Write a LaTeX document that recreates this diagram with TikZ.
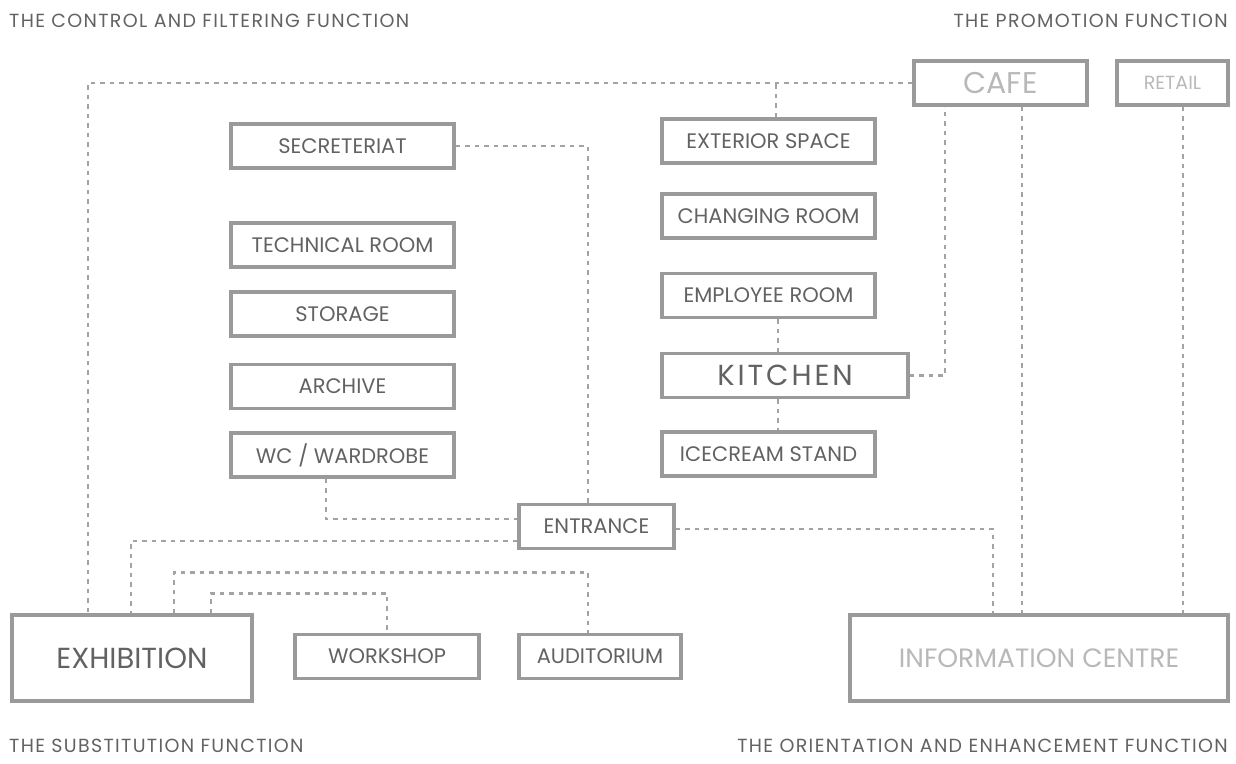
\documentclass[tikz,border=0pt]{standalone}
\usepackage{fontspec}
\setmainfont{Poppins}
\usetikzlibrary{positioning}

\definecolor{boxgray}{HTML}{9A9A9A}
\definecolor{linkgray}{HTML}{A3A3A3}
\definecolor{darktext}{HTML}{626262}
\definecolor{palegray}{HTML}{B8B8B8}

\tikzset{
    room/.style={draw=boxgray,line width=3.5pt,inner sep=0pt,minimum width=223pt,minimum height=44pt,
        text=darktext,font=\fontsize{21}{24}\selectfont},
    bigroom/.style={room,minimum height=86pt,font=\fontsize{29}{32}\selectfont},
    link/.style={draw=linkgray,line width=2.5pt,dash pattern=on 4.5pt off 5pt},
    caption/.style={inner sep=0pt,text=darktext,font=\fontsize{19}{22}\selectfont\addfontfeature{LetterSpace=7}}
}

\begin{document}
\begin{tikzpicture}[x=1pt,y=-1pt]
    \useasboundingbox (0,0) rectangle (1236,763);

    % corner captions
    \node [caption,anchor=base west] (ctrl) at (9,27) {THE CONTROL AND FILTERING FUNCTION};
    \node [caption,anchor=base east] (promo) at (1228,27) {THE PROMOTION FUNCTION};
    \node [caption,anchor=base west] (subst) at (9,752) {THE SUBSTITUTION FUNCTION};
    \node [caption,anchor=base east] (orient) at (1228,752) {THE ORIENTATION AND ENHANCEMENT FUNCTION};

    % left column
    \node [room] (secr) at (342.5,146) {SECRETERIAT};
    \node [room] (tech) at (342.5,245) {TECHNICAL ROOM};
    \node [room] (storage) at (342.5,314) {STORAGE};
    \node [room] (archive) at (342.5,386.5) {ARCHIVE};
    \node [room] (wc) at (342.5,455) {WC / WARDROBE};

    % middle column
    \node [room,minimum width=213pt] (exterior) at (768.5,141) {EXTERIOR SPACE};
    \node [room,minimum width=213pt] (changing) at (768.5,216) {CHANGING ROOM};
    \node [room,minimum width=213pt] (employee) at (768.5,295.5) {EMPLOYEE ROOM};
    \node [room,minimum width=246pt,font=\fontsize{29}{32}\selectfont\addfontfeature{LetterSpace=10}] (kitchen) at (785,375.5) {KITCHEN};
    \node [room,minimum width=213pt] (icecream) at (768.5,454) {ICECREAM STAND};

    % promotion
    \node [room,minimum width=173pt,text=palegray,font=\fontsize{30}{33}\selectfont] (cafe) at (1000.5,83) {CAFE};
    \node [room,minimum width=111pt,text=palegray,font=\fontsize{19}{22}\selectfont] (retail) at (1172.5,83) {RETAIL};

    % bottom row
    \node [room,minimum width=155pt] (entrance) at (596.5,526.5) {ENTRANCE};
    \node [bigroom,minimum width=240pt] (exhibition) at (132,658) {EXHIBITION};
    \node [room,minimum width=184pt] (workshop) at (387,656.5) {WORKSHOP};
    \node [room,minimum width=162pt] (auditorium) at (600,656.5) {AUDITORIUM};
    \node [bigroom,minimum width=378pt,text=palegray,font=\fontsize{26.5}{30}\selectfont] (info) at (1039,658) {INFORMATION CENTRE};

    % links
    \draw [link] (cafe.west) -| ([xshift=-44pt]exhibition.north);
    \draw [link] ([xshift=7.5pt]exterior.north) -- ([xshift=7.5pt]exterior.north |- cafe.west);
    \draw [link] (secr.east) -| ([xshift=-8.5pt]entrance.north);
    \draw [link] (kitchen.east) -| ([xshift=-55.5pt]cafe.south);
    \draw [link] ([xshift=21.5pt]cafe.south) -- ([xshift=21.5pt]cafe.south |- info.north);
    \draw [link] ([xshift=10.5pt]retail.south) -- ([xshift=10.5pt]retail.south |- info.north);
    \draw [link] ([xshift=9.5pt]employee.south) -- ([xshift=9.5pt]employee.south |- kitchen.north);
    \draw [link] ([xshift=9.5pt]employee.south |- kitchen.south) -- ([xshift=9.5pt]icecream.north);
    \draw [link] ([xshift=-16.5pt]wc.south) |- ([yshift=7.5pt]entrance.west);
    \draw [link] ([yshift=-2.5pt]entrance.east) -| ([xshift=-46pt]info.north);
    \draw [link] ([yshift=-14.5pt]entrance.west) -| ([xshift=-1pt]exhibition.north);
    \draw [link] ([xshift=42pt]exhibition.north) -- ++(0,-41) -| ([xshift=-12pt]auditorium.north);
    \draw [link] ([xshift=79pt]exhibition.north) -- ++(0,-20) -| (workshop.north);
\end{tikzpicture}
\end{document}
